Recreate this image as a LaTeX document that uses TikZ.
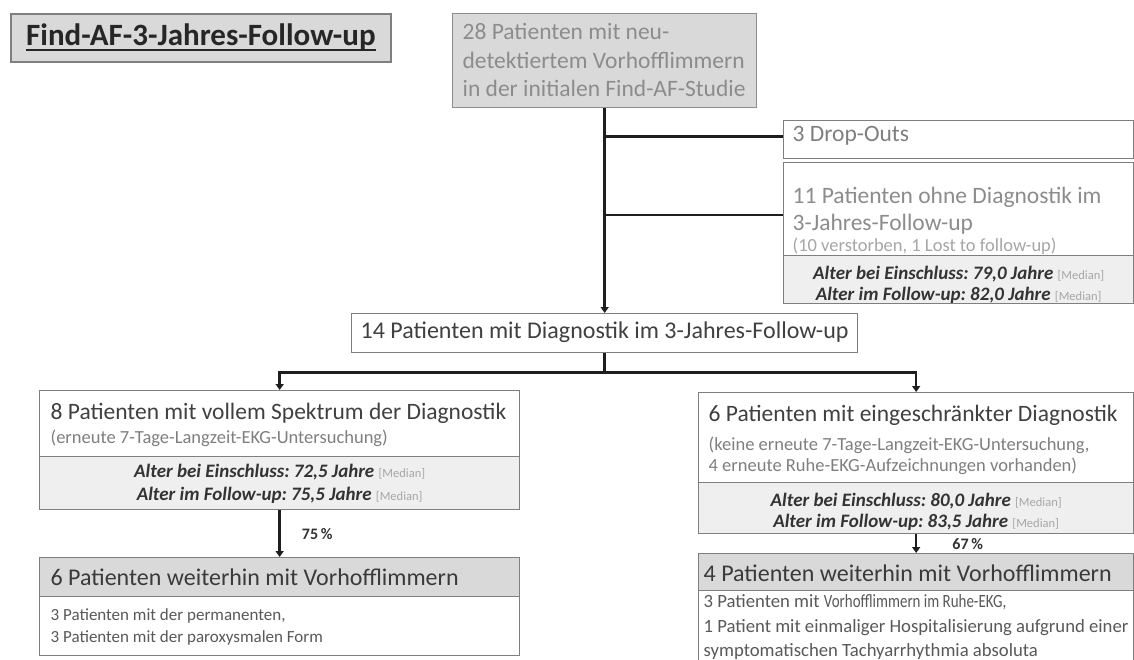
\documentclass[tikz,border=0pt]{standalone}
\usepackage{fontspec}
\usepackage{graphicx}
\setmainfont{Carlito}
\usetikzlibrary{arrows.meta,calc}
\definecolor{ln}{HTML}{1E1E1E}
\definecolor{bd}{HTML}{7F7F7F}
\definecolor{bdl}{HTML}{8C8C8C}
\definecolor{txd}{HTML}{404040}
\definecolor{txh}{HTML}{3A3A3A}
\definecolor{txb}{HTML}{595959}
\definecolor{txg}{HTML}{8C8C8C}
\definecolor{txm}{HTML}{7F7F7F}
\definecolor{txl}{HTML}{A6A6A6}
\definecolor{txa}{HTML}{333333}
\definecolor{ttl}{HTML}{262626}
\definecolor{hdr}{HTML}{D9D9D9}
\definecolor{agec}{HTML}{EFEFEF}
\newcommand{\fs}[2]{\fontsize{#1}{#2}\selectfont}
\newcommand{\nsp}{\frenchspacing\spaceskip=0pt\xspaceskip=0pt\relax}
\newcommand{\mdn}[1]{{\normalfont\fs{12.5}{14}\color{txl}#1}}
\newlength{\ulw}
\newcommand{\thickul}[1]{\settowidth{\ulw}{#1}\rlap{\rule[-5pt]{\ulw}{2pt}}#1}
\begin{document}
\begin{tikzpicture}[x=1pt,y=-1pt,
  box/.style={draw=bd, line width=1.3pt, anchor=north west, inner ysep=0pt, align=flush left},
  conn/.style={draw=ln, line width=2.6pt},
  arr/.style={conn, -{Triangle[length=6pt,width=8pt]}},
  agebox/.style={box, fill=agec, text=txa, align=flush center, inner xsep=0pt, font=\fs{19}{21}\bfseries\itshape},
  pct/.style={font=\fs{16}{18}\bfseries, text=txa, inner sep=0pt}
]
\useasboundingbox (0,0) rectangle (1134,660);
\fill[white] (0,0) rectangle (1134,660);
\clip (0,0) rectangle (1134,660);

% title
\node[box, fill=hdr, draw=bd, line width=1.8pt, text=ttl, align=flush center, inner xsep=0pt,
      text width=380pt, text height=32pt, text depth=16pt, font=\fs{31}{34}\bfseries]
      (title) at (10,13) {\thickul{Find-AF-3-Jahres-Follow-up}};

% start
\node[box, fill=hdr, draw=bdl, text=txg, font=\fs{23.5}{28.5}, inner xsep=10pt,
      text width=284pt, text height=26pt, text depth=68pt]
      (start) at (452,13) {\nsp\mbox{28 Patienten mit neu-}\\\mbox{detektiertem Vorhofflimmern}\\\mbox{in der initialen Find-AF-Studie}};

% drop-outs
\node[box, text=txm, font=\fs{23.5}{27}, inner xsep=9pt,
      text width=332pt, text height=21pt, text depth=17pt]
      (drop) at (783,120) {\nsp 3 Drop-Outs};

% no diagnostics
\node[box, text=txg, font=\fs{23.5}{27}, inner xsep=9pt,
      text width=332pt, text height=41pt, text depth=52pt]
      (noDiag) at (783,162) {\nsp\mbox{11 Patienten ohne Diagnostik im}\\3-Jahres-Follow-up\\[-6pt]{\fs{18.5}{20}\color{txl}(10 verstorben, 1 Lost to follow-up)}};
\node[agebox, text width=350pt, text height=24pt, text depth=24pt]
      (noDiagAge) at (783,255) {\nsp Alter bei Einschluss: 79,0 Jahre \mdn{[Median]}\\Alter im Follow-up: 82,0 Jahre \mdn{[Median]}};

% with diagnostics
\node[box, text=txd, font=\fs{24}{28}, align=flush center, inner xsep=0pt,
      text width=506pt, text height=25pt, text depth=14pt]
      (with) at (351,313) {\nsp 14 Patienten mit Diagnostik im 3-Jahres-Follow-up};

% full spectrum
\node[box, text=txd, font=\fs{23.5}{24}, inner xsep=11pt,
      text width=458pt, text height=29pt, text depth=37pt]
      (full) at (39,390) {\nsp\mbox{8 Patienten mit vollem Spektrum der Diagnostik}\\{\fs{18.5}{20}\color{txm}(erneute 7-Tage-Langzeit-EKG-Untersuchung)}};
\node[agebox, text width=480pt, text height=21pt, text depth=32pt, font=\fs{19}{23}\bfseries\itshape]
      (fullAge) at (39,456) {\nsp Alter bei Einschluss: 72,5 Jahre \mdn{[Median]}\\Alter im Follow-up: 75,5 Jahre \mdn{[Median]}};

% limited
\node[box, text=txd, font=\fs{23.5}{29}, inner xsep=10pt,
      text width=415pt, text height=29pt, text depth=61pt]
      (limited) at (698,392) {\nsp\mbox{6 Patienten mit eingeschränkter Diagnostik}\\{\fs{18.5}{20}\color{txm}(keine erneute 7-Tage-Langzeit-EKG-Untersuchung,}\\[-8pt]{\fs{18.5}{20}\color{txm}4 erneute Ruhe-EKG-Aufzeichnungen vorhanden)}};
\node[agebox, text width=435pt, text height=24pt, text depth=27pt]
      (limitedAge) at (698,482) {\nsp Alter bei Einschluss: 80,0 Jahre \mdn{[Median]}\\Alter im Follow-up: 83,5 Jahre \mdn{[Median]}};

% AF left
\node[box, fill=hdr, text=txh, font=\fs{24}{28}, inner xsep=11pt,
      text width=458pt, text height=28pt, text depth=11pt]
      (af1) at (39,557) {\nsp 6 Patienten weiterhin mit Vorhofflimmern};
\node[box, text=txb, font=\fs{17}{22}, inner xsep=11pt,
      text width=458pt, text height=24pt, text depth=35pt]
      (af1body) at (39,596) {\nsp 3 Patienten mit der permanenten,\\3 Patienten mit der paroxysmalen Form};

% AF right
\node[box, fill=hdr, text=txh, font=\fs{24}{28}, inner xsep=5pt,
      text width=425pt, text height=28pt, text depth=9pt]
      (af2) at (698,553) {\nsp 4 Patienten weiterhin mit Vorhofflimmern};
\node[box, text=txb, font=\fs{18.7}{24.5}, inner xsep=5pt,
      text width=425pt, text height=17pt, text depth=80pt]
      (af2body) at (698,590) {\nsp 3 Patienten mit \scalebox{0.8}[1]{Vorhofflimmern im Ruhe-EKG,}\\\mbox{1 Patient mit einmaliger Hospitalisierung aufgrund einer}\\symptomatischen Tachyarrhythmia absoluta};

% connectors
\draw[arr] (start) -- (with);
\draw[conn] ($(start.south |- drop.west)+(0,-3)$) -- ($(drop.west)+(0,-3)$);
\draw[conn] ($(start.south |- noDiag.west)+(0,6)$) -- ($(noDiag.west)+(0,6)$);
\coordinate (bar) at ($(with.south)+(0,19)$);
\draw[conn] (with) -- (bar);
\draw[arr] (bar) -| (full);
\draw[arr] (bar) -| (limited);
\draw[arr] (fullAge) -- (af1) node[pct, midway, anchor=west, xshift=21pt] (p75) {75\,\%};
\draw[arr] (limitedAge) -- (af2) node[pct, midway, anchor=west, xshift=35pt] (p67) {67\,\%};
\end{tikzpicture}
\end{document}
